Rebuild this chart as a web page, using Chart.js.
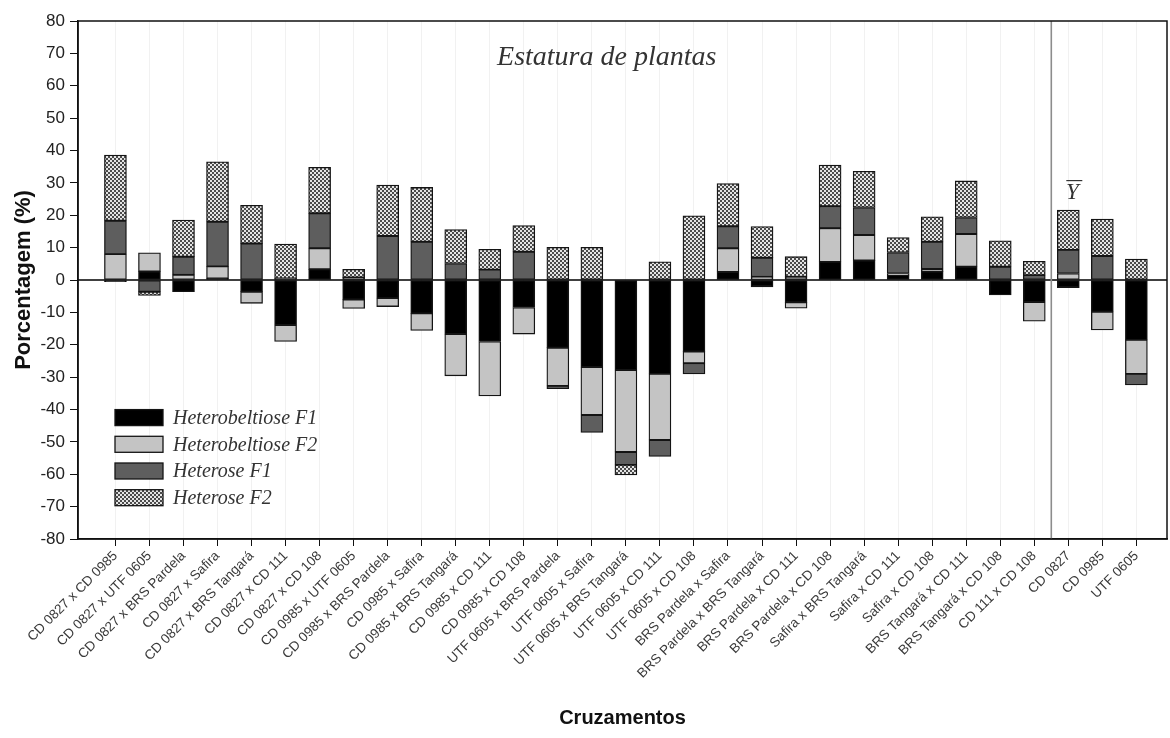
<!DOCTYPE html>
<html><head><meta charset="utf-8">
<script src="https://cdn.jsdelivr.net/npm/chart.js@4/dist/chart.umd.min.js"></script>
<style>html,body{margin:0;padding:0;background:#fff}#wrap{width:1170px;height:738px;position:relative}</style>
</head><body><div id="wrap"><canvas id="c" width="1170" height="738"></canvas></div>
<script>
const categories = [
  "CD 0827 x CD 0985","CD 0827 x UTF 0605","CD 0827 x BRS Pardela","CD 0827 x Safira",
  "CD 0827 x BRS Tangará","CD 0827 x CD 111","CD 0827 x CD 108","CD 0985 x UTF 0605",
  "CD 0985 x BRS Pardela","CD 0985 x Safira","CD 0985 x BRS Tangará","CD 0985 x CD 111",
  "CD 0985 x CD 108","UTF 0605 x BRS Pardela","UTF 0605 x Safira","UTF 0605 x BRS Tangará",
  "UTF 0605 x CD 111","UTF 0605 x CD 108","BRS Pardela x Safira","BRS Pardela x BRS Tangará",
  "BRS Pardela x CD 111","BRS Pardela x CD 108","Safira x BRS Tangará","Safira x CD 111",
  "Safira x CD 108","BRS Tangará x CD 111","BRS Tangará x CD 108","CD 111 x CD 108",
  "CD 0827","CD 0985","UTF 0605"
];
const heterobeltioseF1 = [-0.5, 2.6, -3.6, 0.5, -3.6, -13.9, 3.3, -6.0, -5.6, -10.3, -16.7, -19.0, -8.5, -20.9, -26.9, -27.8, -29.0, -22.1, 2.5, -2.1, -6.9, 5.6, 6.0, 1.5, 2.6, 4.1, -4.6, -6.8, -2.4, -9.8, -18.5];
const heterobeltioseF2 = [8.0, 5.8, 1.6, 3.7, -3.6, -5.1, 6.5, -2.8, -2.6, -5.3, -12.9, -16.8, -8.2, -11.8, -14.8, -25.3, -20.4, -3.6, 7.3, 1.0, -1.8, 10.4, 7.9, 0.5, 0.8, 10.1, 0, -5.9, 2.0, -5.6, -10.5];
const heteroseF1 = [10.3, -3.6, 5.6, 13.8, 11.3, 0.5, 10.8, 0.8, 13.6, 11.8, 5.1, 3.2, 8.7, -0.9, -5.4, -4.0, -5.1, -3.3, 6.8, 5.9, 1.0, 6.8, 8.5, 6.5, 8.4, 5.1, 4.1, 1.5, 7.3, 7.4, -3.4];
const heteroseF2 = [20.3, -1.2, 11.3, 18.5, 11.8, 10.6, 14.2, 2.5, 15.7, 16.8, 10.5, 6.3, 8.1, 10.1, 10.1, -3.1, 5.6, 19.8, 13.2, 9.6, 6.2, 12.7, 11.2, 4.6, 7.7, 11.3, 8.0, 4.3, 12.3, 11.4, 6.5];
const seriesNames = ["Heterobeltiose F1","Heterobeltiose F2","Heterose F1","Heterose F2"];
const yMin = -80, yMax = 80, yStep = 10;
const titleText = "Estatura de plantas";
const xTitle = "Cruzamentos";
const yTitle = "Porcentagem (%)";
const meanLabel = "Y";
const dividerAfter = 28; // crosses | parents

function makePattern(){
  const t = document.createElement('canvas'); t.width = 4; t.height = 4;
  const g = t.getContext('2d');
  g.fillStyle = '#e4e4e4'; g.fillRect(0,0,4,4);
  g.fillStyle = '#4a4a4a'; g.fillRect(0,0,2,2); g.fillRect(2,2,2,2);
  return document.getElementById('c').getContext('2d').createPattern(t,'repeat');
}
const fills = ['#000000', '#c4c4c4', '#5e5e5e', makePattern()];
const allSeries = [heterobeltioseF1, heterobeltioseF2, heteroseF1, heteroseF2];

const datasets = allSeries.map((arr, k) => ({
  label: seriesNames[k],
  data: arr.map((v, i) => ({x: i + 1, y: v})),
  backgroundColor: fills[k],
  borderColor: '#141414',
  borderWidth: 1.3,
  borderSkipped: false,
  barThickness: 22
}));

const overlay = {
  id: 'overlay',
  afterDatasetsDraw(chart){
    const {ctx, chartArea: a, scales: {x, y}} = chart;
    ctx.save();
    const y0 = y.getPixelForValue(0);
    ctx.strokeStyle = '#000'; ctx.lineWidth = 1.5;
    ctx.beginPath(); ctx.moveTo(a.left, y0); ctx.lineTo(a.right, y0); ctx.stroke();
    const dx = x.getPixelForValue(dividerAfter + 0.5);
    ctx.strokeStyle = '#8c8c8c'; ctx.lineWidth = 1.6;
    ctx.beginPath(); ctx.moveTo(dx, a.top); ctx.lineTo(dx, a.bottom); ctx.stroke();
    ctx.strokeStyle = '#111'; ctx.lineWidth = 1.5;
    ctx.strokeRect(a.left, a.top, a.right - a.left, a.bottom - a.top);
    ctx.fillStyle = '#333';
    ctx.font = 'italic 28px "Liberation Serif", "DejaVu Serif", serif';
    ctx.textAlign = 'center'; ctx.textBaseline = 'middle';
    ctx.fillText(titleText, a.left + (a.right - a.left) * 0.4855, a.top + 37);
    const mx = x.getPixelForValue(dividerAfter + 1) + 4, my = y.getPixelForValue(27);
    ctx.font = 'italic 23px "Liberation Serif", serif';
    ctx.fillText(meanLabel, mx, my);
    ctx.strokeStyle = '#333'; ctx.lineWidth = 1.2;
    ctx.beginPath(); ctx.moveTo(mx - 6, my - 12); ctx.lineTo(mx + 10, my - 12); ctx.stroke();
    const lx = a.left + 37, ly0 = y.getPixelForValue(-42.5), step = 26.7;
    ctx.textAlign = 'left';
    ctx.font = 'italic 20px "Liberation Serif", serif';
    chart.data.datasets.forEach((ds, k) => {
      const cy = ly0 + k * step;
      ctx.fillStyle = ds.backgroundColor;
      ctx.fillRect(lx, cy - 8, 48, 16);
      ctx.strokeStyle = '#141414'; ctx.lineWidth = 1.3;
      ctx.strokeRect(lx, cy - 8, 48, 16);
      ctx.fillStyle = '#333';
      ctx.fillText(ds.label, lx + 58, cy + 1);
    });
    ctx.restore();
  }
};

Chart.defaults.font.family = '"Liberation Sans", Arial, sans-serif';
new Chart(document.getElementById('c'), {
  type: 'bar',
  data: { datasets },
  plugins: [overlay],
  options: {
    responsive: false,
    animation: false,
    devicePixelRatio: 1,
    layout: { padding: { top: 21, right: 3, left: 0, bottom: 0 } },
    plugins: { legend: { display: false }, tooltip: { enabled: false } },
    scales: {
      x: {
        type: 'linear', stacked: true, min: -0.1, max: 31.9, offset: false,
        afterBuildTicks(s){ s.ticks = categories.map((c, i) => ({value: i + 1})); },
        afterFit(s){ s.height = 199; },
        ticks: {
          autoSkip: false, minRotation: 45, maxRotation: 45, padding: 2,
          color: '#3a3a3a', font: { size: 13.5 },
          callback: (v) => categories[v - 1] ?? ''
        },
        grid: { display: true, offset: false, drawOnChartArea: true, color: 'rgba(0,0,0,0.055)', tickColor: '#111', tickLength: 7, lineWidth: 1 },
        border: { display: true, color: '#111', width: 1.5 },
        title: { display: true, text: xTitle, color: '#111', font: { size: 20, weight: 'bold' }, padding: { top: 0, bottom: 8 } }
      },
      y: {
        stacked: true, min: yMin, max: yMax,
        afterFit(s){ s.width = 78; },
        ticks: { stepSize: yStep, color: '#222', font: { size: 17 }, padding: 5 },
        grid: { drawOnChartArea: false, tickColor: '#111', tickLength: 8 },
        border: { display: true, color: '#111', width: 1.5 },
        title: { display: true, text: yTitle, color: '#111', font: { size: 22, weight: 'bold' }, padding: { top: 11, bottom: 0 } }
      }
    }
  }
});
</script>
</body></html>
